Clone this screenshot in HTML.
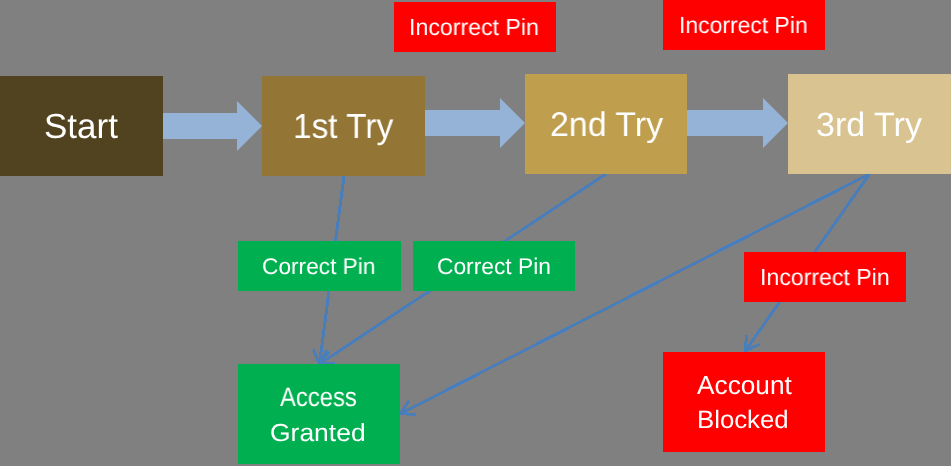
<!DOCTYPE html>
<html>
<head>
<meta charset="utf-8">
<style>
html,body{margin:0;padding:0;}
body{width:951px;height:466px;background:#808080;position:relative;overflow:hidden;font-family:"Liberation Sans",sans-serif;color:#fff;}
.r{position:absolute;}
.t{position:absolute;white-space:nowrap;line-height:1;transform-origin:0 0;text-rendering:geometricPrecision;will-change:transform;}
svg{position:absolute;left:0;top:0;}
</style>
</head>
<body>
<svg width="951" height="466" viewBox="0 0 951 466">
  <g fill="#95B3D7">
    <polygon points="163,113 237,113 237,101 262,126 237,151 237,139 163,139"/>
    <polygon points="425,110 500,110 500,98 525,123 500,148 500,136 425,136"/>
    <polygon points="687,110 763,110 763,98 788,123 763,148 763,136 687,136"/>
  </g>
  <g stroke="#4A7EBB" stroke-width="3" fill="none" shape-rendering="crispEdges" stroke-linecap="round" stroke-linejoin="round">
    <line x1="344" y1="176" x2="319.5" y2="364"/>
    <polyline points="328.3,352.5 319.5,364 313.9,350.6"/>
    <line x1="606" y1="174" x2="319.5" y2="364"/>
    <polyline points="334.0,363.1 319.5,364 326.0,351.0"/>
    <line x1="869.5" y1="174" x2="400.5" y2="413.7"/>
    <polyline points="415.0,414.4 400.5,413.7 408.4,401.5"/>
    <line x1="869.5" y1="174" x2="745.2" y2="351"/>
    <polyline points="758.3,344.9 745.2,351 746.5,336.6"/>
  </g>
</svg>

<div class="r" style="left:0px;top:76px;width:163px;height:100px;background:#524320;"></div>
<div class="r" style="left:262px;top:76px;width:163px;height:100px;background:#937636;"></div>
<div class="r" style="left:525px;top:74px;width:162px;height:100px;background:#BF9E4E;"></div>
<div class="r" style="left:788px;top:74px;width:163px;height:100px;background:#D8C391;"></div>
<div class="r" style="left:394px;top:2px;width:162px;height:50px;background:#FF0000;"></div>
<div class="r" style="left:663px;top:-2px;width:162px;height:52px;background:#FF0000;"></div>
<div class="r" style="left:238px;top:241px;width:163px;height:50px;background:#00B050;"></div>
<div class="r" style="left:413px;top:241px;width:162px;height:50px;background:#00B050;"></div>
<div class="r" style="left:744px;top:252px;width:162px;height:50px;background:#FF0000;"></div>
<div class="r" style="left:238px;top:364px;width:162px;height:100px;background:#00B050;"></div>
<div class="r" style="left:663px;top:352px;width:162px;height:100px;background:#FF0000;"></div>
<div class="t" style="left:43.57px;top:109.93px;font-size:34.80px;transform:scaleX(1.0053);">Start</div>
<div class="t" style="left:293.12px;top:109.82px;font-size:34.88px;transform:scaleX(0.9575);">1st Try</div>
<div class="t" style="left:549.84px;top:107.53px;font-size:34.29px;transform:scaleX(0.9891);">2nd Try</div>
<div class="t" style="left:815.59px;top:109.16px;font-size:33.76px;transform:scaleX(1.0086);">3rd Try</div>
<div class="t" style="left:409.24px;top:15.80px;font-size:23.28px;transform:scaleX(0.9942);">Incorrect Pin</div>
<div class="t" style="left:679.14px;top:14.12px;font-size:23.37px;transform:scaleX(0.9808);">Incorrect Pin</div>
<div class="t" style="left:759.68px;top:265.80px;font-size:23.28px;transform:scaleX(0.9923);">Incorrect Pin</div>
<div class="t" style="left:261.55px;top:255.48px;font-size:22.72px;transform:scaleX(0.9978);">Correct Pin</div>
<div class="t" style="left:436.57px;top:255.48px;font-size:22.72px;transform:scaleX(1.0027);">Correct Pin</div>
<div class="t" style="left:279.50px;top:384.11px;font-size:26.72px;transform:scaleX(0.8917);">Access</div>
<div class="t" style="left:269.84px;top:422.00px;font-size:24.71px;transform:scaleX(1.0713);">Granted</div>
<div class="t" style="left:696.58px;top:372.28px;font-size:26.12px;transform:scaleX(1.0052);">Account</div>
<div class="t" style="left:697.44px;top:407.75px;font-size:25.12px;transform:scaleX(1.0259);">Blocked</div>
</body>
</html>
